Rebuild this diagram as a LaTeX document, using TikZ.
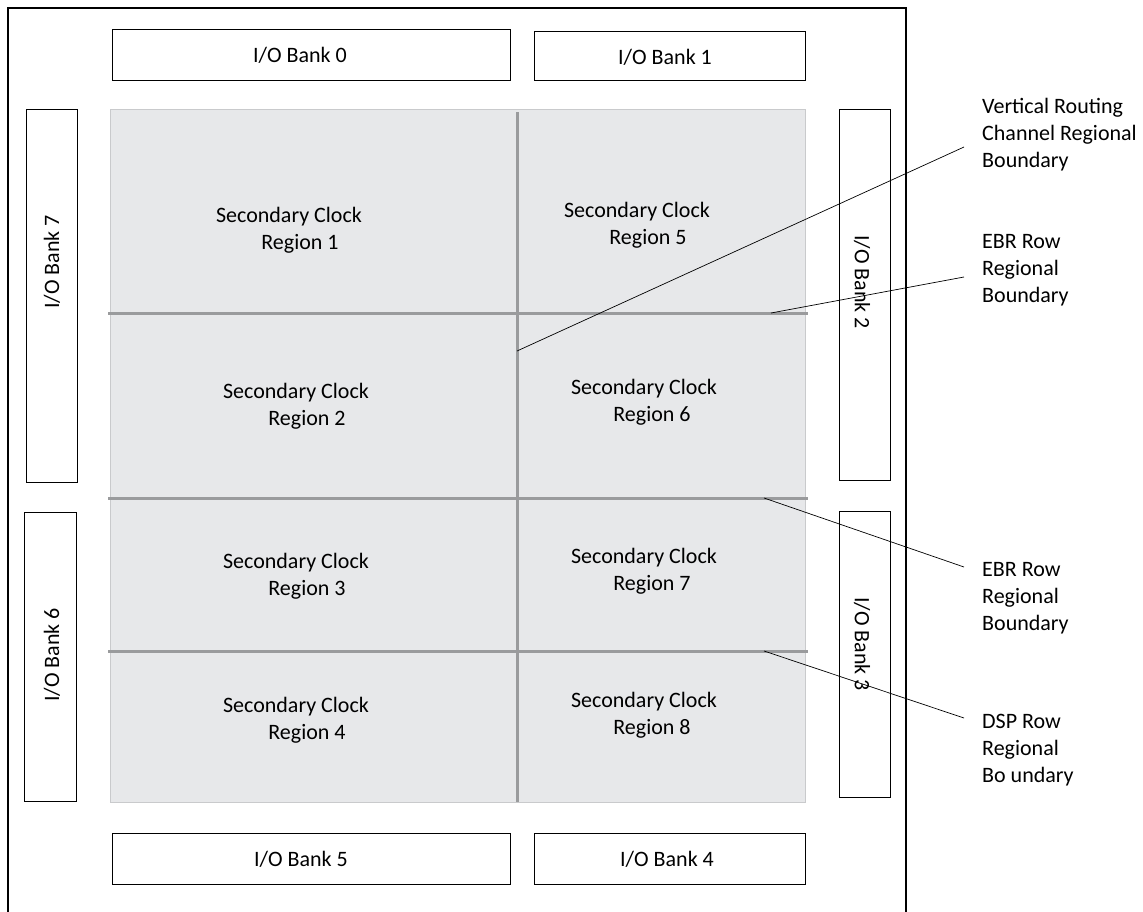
\documentclass[tikz,border=0pt]{standalone}
\usepackage{fontspec}
\setmainfont{Carlito}
\definecolor{fabricfill}{HTML}{E7E8EA}
\definecolor{fabricedge}{HTML}{C9CACC}
\definecolor{rowline}{HTML}{9A9B9D}

\begin{document}
\begin{tikzpicture}[x=1pt, y=-1pt, every node/.style={font=\fontsize{22}{27}\selectfont}, bank/.style={rectangle, draw, line width=1.2pt, inner sep=0pt, anchor=north west}, region/.style={align=center, inner sep=0pt}, callout/.style={align=left, anchor=west, inner sep=0pt}, boundary/.style={draw=rowline, line width=3pt}, leader/.style={draw, line width=0.7pt}]

  \useasboundingbox (0,0) rectangle (1143,911);

  % device outline (open at the bottom)
  \draw[line width=1.2pt] (8,915) -- (8,8) -- (906,8) -- (906,915);

  % logic fabric
  \node[draw=fabricedge, fill=fabricfill, line width=1pt, inner sep=0pt, anchor=north west, minimum width=695, minimum height=693] (fabric) at (110,109) {};

  % I/O banks
  \node[bank, minimum width=398, minimum height=51] (bank0) at (112,29) {};
  \node[bank, minimum width=271, minimum height=49] (bank1) at (534,31) {};
  \node[bank, minimum width=51, minimum height=371] (bank2) at (839,109) {};
  \node[bank, minimum width=51, minimum height=286] (bank3) at (839,511) {};
  \node[bank, minimum width=271, minimum height=51] (bank4) at (534,833) {};
  \node[bank, minimum width=398, minimum height=51] (bank5) at (112,833) {};
  \node[bank, minimum width=52, minimum height=289] (bank6) at (24,512) {};
  \node[bank, minimum width=51, minimum height=373] (bank7) at (26,109) {};

  \node (name0) at (300,55) {I/O Bank 0};
  \node (name1) at (665,57) {I/O Bank 1};
  \node[rotate=-90] (name2) at (862,282) {I/O Bank 2};
  \node[rotate=-90] (name3) at (862,644) {I/O Bank 3};
  \node (name4) at (667,859) {I/O Bank 4};
  \node (name5) at (301,859) {I/O Bank 5};
  \node[rotate=90] (name6) at (52,655) {I/O Bank 6};
  \node[rotate=90] (name7) at (52,262) {I/O Bank 7};

  % regional boundaries
  \draw[boundary] (517,112) coordinate (vrTop) -- (517,802) coordinate (vrBot);
  \draw[boundary] (108,313) coordinate (ebraW) -- (808,313) coordinate (ebraE);
  \draw[boundary] (108,498) coordinate (ebrbW) -- (808,498) coordinate (ebrbE);
  \draw[boundary] (108,651) coordinate (dspW) -- (808,651) coordinate (dspE);

  % clock regions
  \node[region] (reg1) at (289,230) {Secondary Clock\\\hspace*{22pt}Region 1};
  \node[region] (reg2) at (296,406) {Secondary Clock\\\hspace*{22pt}Region 2};
  \node[region] (reg3) at (296,576) {Secondary Clock\\\hspace*{22pt}Region 3};
  \node[region] (reg4) at (296,720) {Secondary Clock\\\hspace*{22pt}Region 4};
  \node[region] (reg5) at (637,225) {Secondary Clock\\\hspace*{22pt}Region 5};
  \node[region] (reg6) at (644,402) {Secondary Clock\\\hspace*{16pt}Region 6};
  \node[region] (reg7) at (644,571) {Secondary Clock\\\hspace*{16pt}Region 7};
  \node[region] (reg8) at (644,715) {Secondary Clock\\\hspace*{16pt}Region 8};

  % callouts
  \node[callout] (vrText) at (982,135) {Vertical Routing\\Channel Regional\\Boundary};
  \node[callout] (ebraText) at (982,270) {EBR Row\\Regional\\Boundary};
  \node[callout] (ebrbText) at (982,598) {EBR Row\\Regional\\Boundary};
  \node[callout] (dspText) at (982,750) {DSP Row\\Regional\\Bo undary};

  \coordinate (vrPt) at (517,351);
  \coordinate (vrEnd) at (964,147);
  \coordinate (ebraPt) at (771,313);
  \coordinate (ebraEnd) at (964,277);
  \coordinate (ebrbPt) at (764,498);
  \coordinate (ebrbEnd) at (964,567);
  \coordinate (dspPt) at (764,651);
  \coordinate (dspEnd) at (964,718);

  \draw[leader] (vrPt) -- (vrEnd);
  \draw[leader] (ebraPt) -- (ebraEnd);
  \draw[leader] (ebrbPt) -- (ebrbEnd);
  \draw[leader] (dspPt) -- (dspEnd);
\end{tikzpicture}
\end{document}
